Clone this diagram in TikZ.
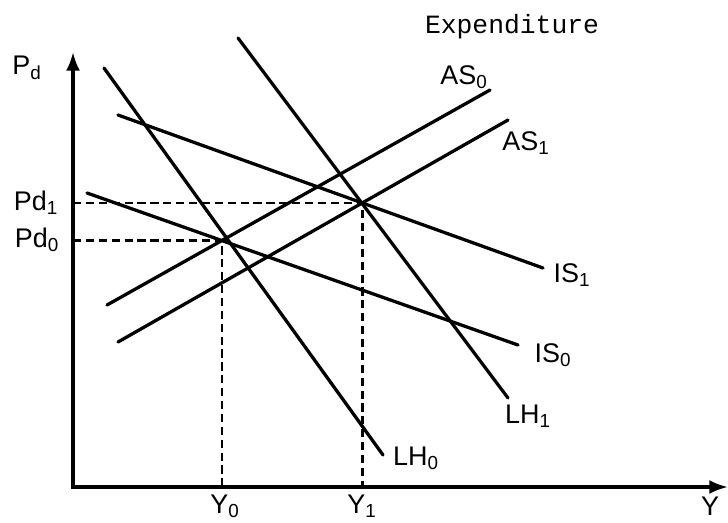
\documentclass[tikz,border=0pt]{standalone}
\usepackage{fontspec}
\setmainfont{Liberation Sans}
\newfontfamily\typew{Liberation Mono}
\usetikzlibrary{arrows.meta,intersections}
\begin{document}
\begin{tikzpicture}[x=0.03cm,y=-0.03cm,
  curve/.style={line width=2.8pt, line cap=round},
  axis/.style={line width=2.8pt, {Latex[length=16pt,width=12pt]}-{Latex[length=16pt,width=12pt]}},
  guide/.style={line width=2.1pt, dash pattern=on 7pt off 4pt},
  lbl/.style={font=\fontsize{23}{25}\selectfont, inner sep=0pt},
  ttl/.style={font=\typew\fontsize{22.5}{25}\selectfont, inner sep=0pt}]
\useasboundingbox (0,0) rectangle (728,522);
% axes
\coordinate (O) at (73,487);
\coordinate (ytop) at (73,52);
\coordinate (xend) at (728,487);
\draw[axis] (ytop) -- (O) -- (xend);
% curve end points
\coordinate (lh0a) at (104,68);  \coordinate (lh0b) at (383,455);
\coordinate (lh1a) at (238,38);  \coordinate (lh1b) at (508,398);
\coordinate (as0a) at (107,305); \coordinate (as0b) at (490,90);
\coordinate (as1a) at (118,342); \coordinate (as1b) at (508,120);
\coordinate (is1a) at (118,115); \coordinate (is1b) at (543,268);
\coordinate (is0a) at (87,193);  \coordinate (is0b) at (518,345);
\draw[curve, name path=lh0] (lh0a) -- (lh0b);
\draw[curve, name path=lh1] (lh1a) -- (lh1b);
\draw[curve, name path=as0] (as0a) -- (as0b);
\draw[curve, name path=as1] (as1a) -- (as1b);
\draw[curve, name path=is1] (is1a) -- (is1b);
\draw[curve, name path=is0] (is0a) -- (is0b);
\path[name intersections={of=as0 and is0, by=E0}];
\path[name intersections={of=as1 and is1, by=E1}];
\draw[guide] (E0 -| O) -- (E0) -- (E0 |- O);
\draw[guide] (E1 -| O) -- (E1) -- (E1 |- O);
% labels
\node[lbl] (lpd) at (27,68) {P\textsubscript{d}};
\node[lbl] (lpd1) at (36,203) {Pd\textsubscript{1}};
\node[lbl] (lpd0) at (37,240) {Pd\textsubscript{0}};
\node[lbl] (ly0) at (225,506) {Y\textsubscript{0}};
\node[lbl] (ly1) at (362,506) {Y\textsubscript{1}};
\node[lbl] (ly) at (710,506) {Y};
\node[lbl] (las0) at (464,77) {AS\textsubscript{0}};
\node[lbl] (las1) at (526,143) {AS\textsubscript{1}};
\node[lbl] (lis1) at (572,275) {IS\textsubscript{1}};
\node[lbl] (lis0) at (553,355) {IS\textsubscript{0}};
\node[lbl] (llh0) at (416,458) {LH\textsubscript{0}};
\node[lbl] (llh1) at (528,416) {LH\textsubscript{1}};
\node[ttl] (title) at (512,27) {Expenditure};
\end{tikzpicture}
\end{document}
